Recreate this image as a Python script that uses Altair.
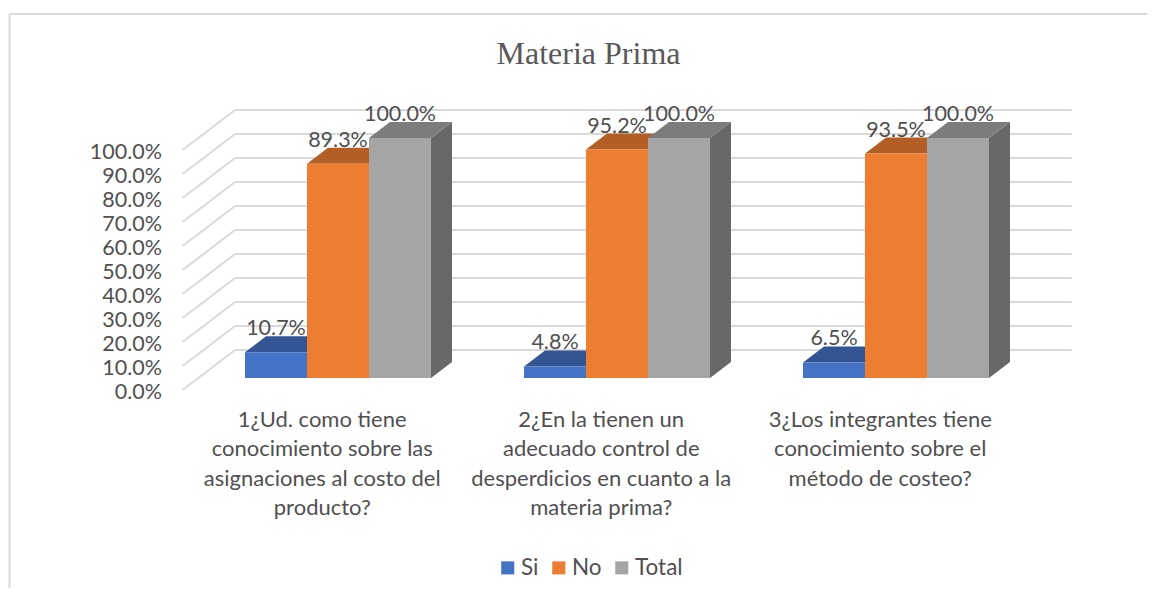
import altair as alt
import pandas as pd

# ---- data ----
series = ["Si", "No", "Total"]
si_values = [10.7, 4.8, 6.5]
no_values = [89.3, 95.2, 93.5]
total_values = [100.0, 100.0, 100.0]
categories = [
    "1¿Ud. como tiene\nconocimiento sobre las\nasignaciones al costo del\nproducto?",
    "2¿En la  tienen un\nadecuado control de\ndesperdicios en cuanto a la\nmateria prima?",
    "3¿Los integrantes  tiene\nconocimiento sobre el\nmétodo de costeo?",
]
ticks = [0, 10, 20, 30, 40, 50, 60, 70, 80, 90, 100]
front_colors = ["#4472C4", "#ED7D31", "#A5A5A5"]
top_colors = ["#335593", "#B25E25", "#7C7C7C"]
side_colors = ["#28457A", "#8E4B1D", "#686868"]

# ---- oblique projection: x in bar widths, y in percent, depth in bar depths ----
DX, DY = 21 / 62, 16 / 2.4
GROUP_STEP = 4.5
WALL_BACK, WALL_FRONT = 1.75, -0.75
WALL_LEFT, WALL_RIGHT = -0.754, 12.74
GREY, TEXT = "#D9D9D9", "#505050"


def px(x, d=0.0):
    return x + d * DX


def py(v, d=0.0):
    return v + d * DY


all_values = [si_values, no_values, total_values]
bars, tops, sides, labels = [], [], [], []
for g in range(len(categories)):
    for s, name in enumerate(series):
        v = all_values[s][g]
        x0 = g * GROUP_STEP + s
        bar = f"{g}-{s}"
        bars.append({"x": x0, "x2": x0 + 1, "y": 0, "y2": v, "serie": name})
        for d in (0, 1):
            tops.append({"bar": bar, "xa": px(x0, d), "xb": px(x0 + 1, d), "y": py(v, d), "c": top_colors[s]})
            sides.append({"bar": bar, "x": px(x0 + 1, d), "ya": py(0, d), "yb": py(v, d), "c": side_colors[s]})
        labels.append({"x": x0 + 0.5, "y": py(v, 1), "t": f"{v:.1f}%"})

grid = []
for t in ticks:
    grid.append({"x": px(WALL_LEFT, WALL_BACK), "x2": px(WALL_RIGHT, WALL_BACK),
                 "y": py(t, WALL_BACK), "y2": py(t, WALL_BACK)})
    grid.append({"x": px(WALL_LEFT, WALL_FRONT), "x2": px(WALL_LEFT, WALL_BACK),
                 "y": py(t, WALL_FRONT), "y2": py(t, WALL_BACK)})
tick_labels = [{"x": px(WALL_LEFT, WALL_FRONT) - 0.33, "y": py(t, WALL_FRONT), "t": f"{t:.1f}%"} for t in ticks]
cat_labels = [{"x": px(g * GROUP_STEP + 1.5, WALL_FRONT), "y": -13.3, "t": c} for g, c in enumerate(categories)]

# page pixels <-> data units: bar 0 starts at px 245, zero at py 378
X_DOM = [(8 - 245) / 62, (1147 - 245) / 62]
Y_DOM = [(378 - 588) / 2.4, (378 - 8) / 2.4]
xs = alt.Scale(domain=X_DOM, nice=False, zero=False)
ys = alt.Scale(domain=Y_DOM, nice=False, zero=False)
X = lambda f: alt.X(f, type="quantitative", scale=xs, axis=None)
Y = lambda f: alt.Y(f, type="quantitative", scale=ys, axis=None, stack=None)

border = pd.DataFrame([
    {"x": X_DOM[0] + 1.5 / 62, "x2": X_DOM[1], "y": (378 - 14) / 2.4, "y2": (378 - 14) / 2.4},
    {"x": X_DOM[0] + 1.5 / 62, "x2": X_DOM[0] + 1.5 / 62, "y": (378 - 14) / 2.4, "y2": Y_DOM[0]},
])

lines = alt.Chart(border).mark_rule(color=GREY, strokeWidth=2).encode(
    x=X("x"), x2="x2", y=Y("y"), y2="y2")
grid_l = alt.Chart(pd.DataFrame(grid)).mark_rule(color=GREY, strokeWidth=2).encode(
    x=X("x"), x2="x2", y=Y("y"), y2="y2")
top_l = alt.Chart(pd.DataFrame(tops)).mark_area(orient="horizontal").encode(
    y=Y("y"), x=X("xa"), x2="xb", detail="bar:N", color=alt.Color("c:N", scale=None, legend=None))
side_l = alt.Chart(pd.DataFrame(sides)).mark_area(orient="vertical").encode(
    x=X("x"), y=Y("ya"), y2="yb", detail="bar:N", color=alt.Color("c:N", scale=None, legend=None))
front_l = alt.Chart(pd.DataFrame(bars)).mark_rect().encode(
    x=X("x"), x2="x2", y=Y("y"), y2="y2",
    color=alt.Color("serie:N", sort=series,
                    scale=alt.Scale(domain=series, range=front_colors),
                    legend=alt.Legend(title=None, orient="none", direction="horizontal",
                                      legendX=488.5, legendY=548.5, symbolType="square", symbolSize=170,
                                      symbolStrokeWidth=0, labelFont="Lato", labelFontSize=22.5,
                                      labelColor=TEXT, labelOffset=2, columnPadding=8)))
data_l = alt.Chart(pd.DataFrame(labels)).mark_text(
    font="Lato", fontSize=21.5, color=TEXT, baseline="middle", dy=-7).encode(x=X("x"), y=Y("y"), text="t:N")
tick_l = alt.Chart(pd.DataFrame(tick_labels)).mark_text(
    font="Lato", fontSize=21.5, color=TEXT, align="right", baseline="middle", dy=3).encode(x=X("x"), y=Y("y"), text="t:N")
cat_l = alt.Chart(pd.DataFrame(cat_labels)).mark_text(
    font="Lato", fontSize=22, color=TEXT, baseline="top", lineBreak="\n", lineHeight=29.5).encode(
    x=X("x"), y=Y("y"), text="t:N")

chart = alt.layer(lines, grid_l, side_l, top_l, front_l, data_l, tick_l, cat_l).resolve_scale(
    color="independent"
).properties(
    width=1139, height=580, padding=0, autosize=alt.AutoSizeParams(type="none"),
    title=alt.TitleParams("Materia Prima", font="Liberation Serif", fontSize=32, fontWeight="normal",
                          color="#595959", anchor="middle", baseline="middle", dx=11, dy=78, offset=0),
).configure_view(stroke=None)

chart.save("out.html", embed_options={"renderer": "svg", "actions": False})
